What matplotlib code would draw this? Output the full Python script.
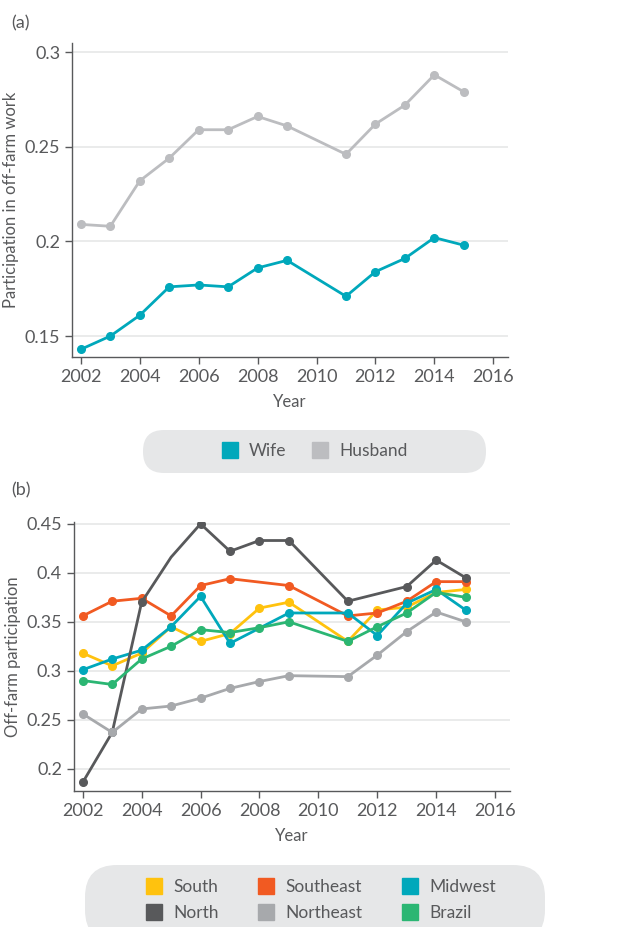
import numpy as np
import matplotlib.pyplot as plt
from matplotlib.patches import FancyBboxPatch
from matplotlib.lines import Line2D
from matplotlib.transforms import IdentityTransform

plt.rcParams['font.family'] = ['Lato', 'DejaVu Sans']

TXT = '#58595b'
GRID = '#e6e7e8'

# panel (a)
years_a = [2002, 2003, 2004, 2005, 2006, 2007, 2008, 2009, 2011, 2012, 2013, 2014, 2015]
wife = [0.143, 0.150, 0.161, 0.176, 0.177, 0.176, 0.186, 0.190, 0.171, 0.184, 0.191, 0.202, 0.198]
husband = [0.209, 0.208, 0.232, 0.244, 0.259, 0.259, 0.266, 0.261, 0.246, 0.262, 0.272, 0.288, 0.279]

# panel (b), nan = no point that year
nan = np.nan
years_b = [2002, 2003, 2004, 2005, 2006, 2007, 2008, 2009, 2011, 2012, 2013, 2014, 2015]
south = [0.318, 0.305, 0.318, 0.345, 0.330, 0.338, 0.364, 0.370, 0.330, 0.362, 0.365, 0.380, 0.383]
southeast = [0.356, 0.371, 0.374, 0.356, 0.387, 0.394, nan, 0.387, 0.356, 0.359, 0.371, 0.391, 0.391]
midwest = [0.301, 0.312, 0.321, 0.345, 0.376, 0.328, nan, 0.359, 0.359, 0.336, 0.369, 0.383, 0.362]
north = [0.186, 0.237, 0.370, 0.416, 0.450, 0.422, 0.433, 0.433, 0.371, nan, 0.386, 0.413, 0.395]
northeast = [0.256, 0.237, 0.261, 0.264, 0.272, 0.282, 0.289, 0.295, 0.294, 0.316, 0.340, 0.360, 0.350]
brazil = [0.290, 0.286, 0.312, 0.325, 0.342, 0.339, 0.344, 0.350, 0.330, 0.345, 0.359, 0.380, 0.375]

regions = ['South', 'Southeast', 'Midwest', 'North', 'Northeast', 'Brazil']
series_b = [south, southeast, midwest, north, northeast, brazil]
colors_b = ['#ffc20e', '#f15a22', '#00a8bb', '#58595b', '#a7a9ac', '#2bb673']
# years whose marker is not drawn
no_marker = {'North': [2005]}

fig = plt.figure(figsize=(6.21, 9.27), dpi=100)


def style_axes(ax, ylim, yticks, ylabels):
    ax.set_xlim(2001.7, 2016.5)
    ax.set_ylim(*ylim)
    ax.set_xticks(range(2002, 2017, 2))
    ax.set_yticks(yticks)
    ax.set_yticklabels(ylabels)
    for s in ['top', 'right']:
        ax.spines[s].set_visible(False)
    for s in ['left', 'bottom']:
        ax.spines[s].set_color(TXT)
        ax.spines[s].set_linewidth(1.0)
    ax.tick_params(colors=TXT, labelsize=13, length=5, width=1.0)
    ax.tick_params(axis='x', pad=4)
    ax.grid(axis='y', color=GRID, lw=1.2)
    ax.set_axisbelow(True)
    ax.set_xlabel('Year', color=TXT, fontsize=12, labelpad=6)


ax1 = fig.add_axes([0.116, 0.615, 0.702, 0.339])
ax1.plot(years_a, husband, '-o', color='#bcbdc0', lw=2, ms=5.5)
ax1.plot(years_a, wife, '-o', color='#00a8bb', lw=2, ms=5.5)
style_axes(ax1, (0.139, 0.305), [0.15, 0.2, 0.25, 0.3], ['0.15', '0.2', '0.25', '0.3'])
ax1.set_ylabel('Participation in off-farm work', color=TXT, fontsize=12, labelpad=4)

ax2 = fig.add_axes([0.119, 0.147, 0.702, 0.290])
for name, vals, c in zip(regions, series_b, colors_b):
    yb = np.array(vals, dtype=float)
    xb = np.array(years_b)
    ok = ~np.isnan(yb)
    xs, ys = xb[ok], yb[ok]
    skip = no_marker.get(name, [])
    mk = [i for i, yr in enumerate(xs) if yr not in skip]
    ax2.plot(xs, ys, '-o', color=c, lw=2, ms=5.5, markevery=mk)
style_axes(ax2, (0.1775, 0.452), [0.2, 0.25, 0.3, 0.35, 0.4, 0.45],
           ['0.2', '0.25', '0.3', '0.35', '0.4', '0.45'])
ax2.set_ylabel('Off-farm participation', color=TXT, fontsize=12, labelpad=4)

fig.text(0.018, 0.975, '(a)', color=TXT, fontsize=13, va='center')
fig.text(0.018, 0.471, '(b)', color=TXT, fontsize=13, va='center')

# legend pills
fig.patches.append(FancyBboxPatch((143, 454), 343, 43, boxstyle='round,pad=0,rounding_size=21',
                                  transform=IdentityTransform(), fc=GRID, ec='none'))
fig.patches.append(FancyBboxPatch((85, -15), 460, 77, boxstyle='round,pad=0,rounding_size=32',
                                  transform=IdentityTransform(), fc=GRID, ec='none'))

h_a = [Line2D([], [], ls='', marker='s', ms=12, color=c) for c in ['#00a8bb', '#bcbdc0']]
fig.legend(h_a, ['Wife', 'Husband'], loc='center', bbox_to_anchor=(0.505, 0.513), ncol=2,
           frameon=False, fontsize=12.5, labelcolor=TXT, handletextpad=0.5, columnspacing=1.35,
           handlelength=1.2)

order = [0, 3, 1, 4, 2, 5]
h_b = [Line2D([], [], ls='', marker='s', ms=12, color=colors_b[i]) for i in order]
fig.legend(h_b, [regions[i] for i in order], loc='center', bbox_to_anchor=(0.515, 0.029), ncol=3,
           frameon=False, fontsize=12.5, labelcolor=TXT, handletextpad=0.5, columnspacing=2.15,
           handlelength=1.2, labelspacing=0.55)

fig.savefig('out.png', dpi=100)
